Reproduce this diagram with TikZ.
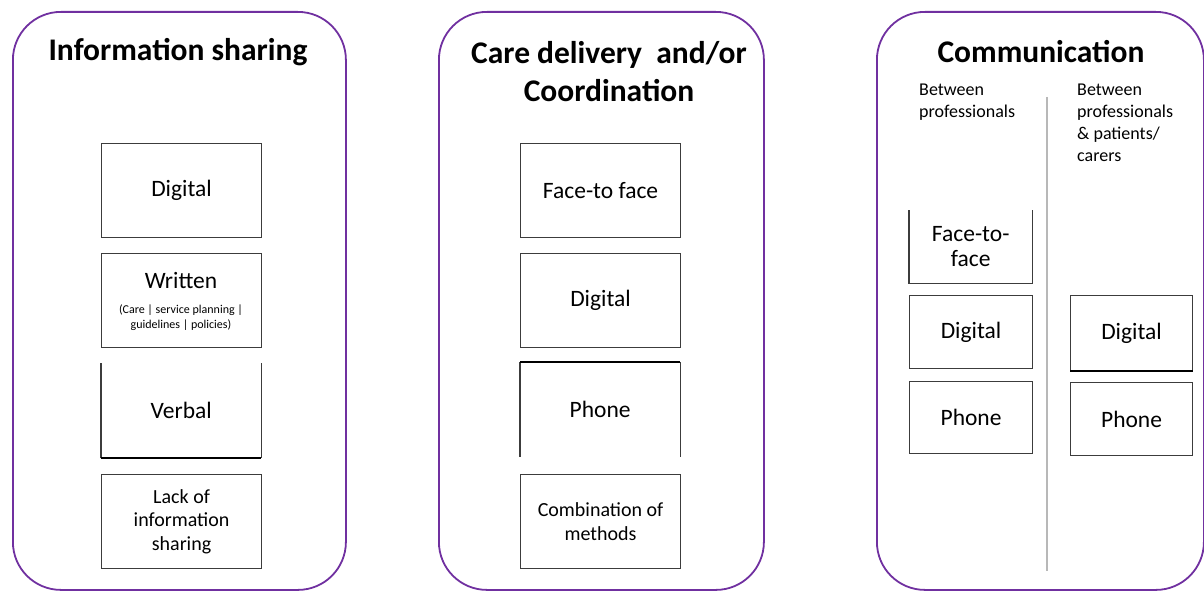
\documentclass[tikz,border=0pt]{standalone}
\usepackage{fontspec}
\setmainfont{Carlito}
\definecolor{panelpurple}{RGB}{112,48,160}
\definecolor{boxline}{RGB}{60,60,60}
\begin{document}
\begin{tikzpicture}[x=1pt,y=-1pt,
  panel/.style={draw=panelpurple, line width=1.8pt, rounded corners=48pt, anchor=north west, inner sep=0pt},
  title/.style={font=\bfseries\fontsize{31.5}{38}\selectfont, align=center, inner sep=0pt},
  itembox/.style={draw=boxline, line width=1.1pt, anchor=north west, inner sep=0pt},
  openbox/.style={anchor=north west, inner sep=0pt},
  side/.style={draw=boxline, line width=1.1pt},
  lbl/.style={font=\fontsize{23.5}{25}\selectfont, align=center, inner sep=0pt},
  lblm/.style={font=\fontsize{20}{23.5}\selectfont, align=center, inner sep=0pt},
  small/.style={font=\fontsize{12}{15}\selectfont, align=center, inner sep=0pt},
  sub/.style={font=\fontsize{18}{22}\selectfont, align=left, anchor=north west, inner sep=0pt},
  divider/.style={draw=black!28, line width=1.2pt}
]
\useasboundingbox (0,0) rectangle (1204,591);

% panels
\node[panel, minimum width=333pt, minimum height=578pt] (p1) at (12,11) {};
\node[panel, minimum width=325pt, minimum height=578pt] (p2) at (438,11) {};
\node[panel, minimum width=327pt, minimum height=578pt] (p3) at (876,11) {};

% titles
\node[title] (t1) at (178,52) {Information sharing};
\node[title] (t2) at (609,72) {Care delivery\ \ and/or\\Coordination};
\node[title] (t3) at (1041,52) {Communication};

% panel 1
\node[itembox, minimum width=160pt, minimum height=94pt] (a1) at (101,143) {};
\node[lbl] (a1t) at (a1.center) {Digital};
\node[itembox, minimum width=160pt, minimum height=94pt] (a2) at (101,253) {};
\node[lbl] (a2t) at (181,280) {Written};
\node[small] (a2s) at (181,318) {(Care | service planning |\\guidelines | policies)};
\node[openbox, minimum width=160pt, minimum height=95pt] (a3) at (101,363) {};
\draw[side] (a3.north west) -- (a3.south west);
\draw[side] (a3.north east) -- (a3.south east);
\draw[draw=black, line width=2pt] (a3.south west) -- (a3.south east);
\node[lbl] (a3t) at (a3.center) {Verbal};
\node[itembox, minimum width=160pt, minimum height=94pt] (a4) at (101,474) {};
\node[lblm] (a4t) at (a4.center) {Lack of\\information\\sharing};

% panel 2
\node[itembox, minimum width=160pt, minimum height=94pt] (b1) at (520,143) {};
\node[lbl] (b1t) at (b1.center) {Face-to face};
\node[itembox, minimum width=160pt, minimum height=94pt] (b2) at (520,253) {};
\node[lbl] (b2t) at (b2.center) {Digital};
\node[openbox, minimum width=160pt, minimum height=95pt] (b3) at (520,362) {};
\draw[side] (b3.north west) -- (b3.south west);
\draw[side] (b3.north east) -- (b3.south east);
\draw[draw=black, line width=2pt] (b3.north west) -- (b3.north east);
\node[lbl] (b3t) at (b3.center) {Phone};
\node[itembox, minimum width=160pt, minimum height=94pt] (b4) at (520,474) {};
\node[lblm] (b4t) at (b4.center) {Combination of\\methods};

% panel 3
\node[sub] (c0) at (919,84) {Between\\professionals};
\node[sub] (d0) at (1077,84) {Between\\professionals\\\&\ patients/\\carers};
\coordinate (dvtop) at (1047,97);
\coordinate (dvbot) at (1047,571);
\draw[divider] (dvtop) -- (dvbot);

\node[openbox, minimum width=123pt, minimum height=73pt] (c1) at (909,210) {};
\draw[side] (c1.north west) -- (c1.south west) -- (c1.south east) -- (c1.north east);
\node[lbl] (c1t) at (c1.center) {Face-to-\\face};
\node[itembox, minimum width=123pt, minimum height=73pt] (c2) at (909,295) {};
\node[lbl] (c2t) at (c2.center) {Digital};
\node[itembox, minimum width=123pt, minimum height=72pt] (c3) at (909,381) {};
\node[lbl] (c3t) at (c3.center) {Phone};

\node[itembox, minimum width=122pt, minimum height=75pt] (d2) at (1070,295) {};
\draw[draw=black, line width=1.8pt] (d2.south west) -- (d2.south east);
\node[lbl] (d2t) at (d2.center) {Digital};
\node[itembox, minimum width=122pt, minimum height=73pt] (d3) at (1070,382) {};
\node[lbl] (d3t) at (d3.center) {Phone};
\end{tikzpicture}
\end{document}
